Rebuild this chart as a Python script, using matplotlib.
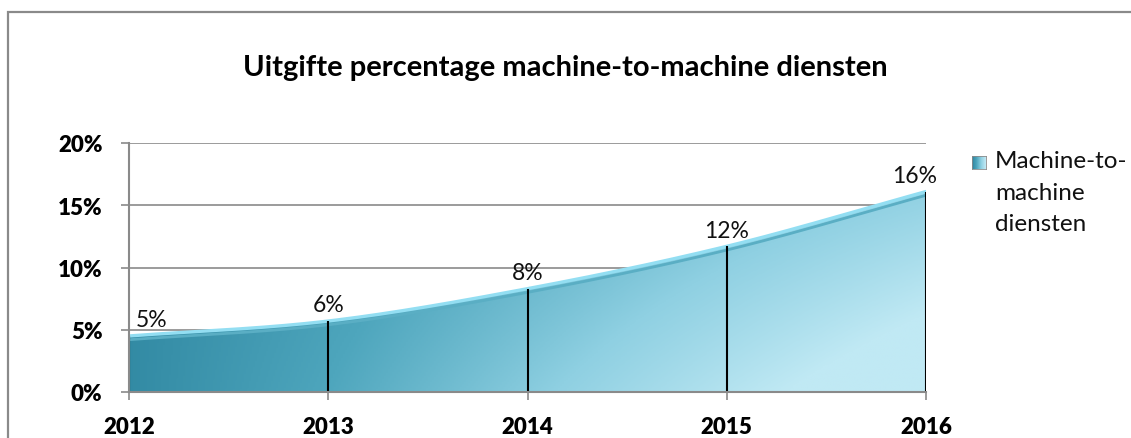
import numpy as np
import matplotlib.pyplot as plt
from matplotlib.colors import LinearSegmentedColormap
from matplotlib.patches import Rectangle, Polygon

plt.rcParams['font.family'] = ['Lato', 'DejaVu Sans']

# data
years = ['2012', '2013', '2014', '2015', '2016']
values = [4.5, 5.7, 8.3, 11.7, 16.1]          # percent
value_labels = ['5%', '6%', '8%', '12%', '16%']
yticks = [0, 5, 10, 15, 20]
series_name = 'Machine-to-\nmachine\ndiensten'
title = 'Uitgifte percentage machine-to-machine diensten'

W, H = 1131, 439


def smooth(x, y, n=60):
    # catmull-rom through the points, roughly what excel's "smoothed line" does
    x = np.asarray(x, float)
    y = np.asarray(y, float)
    px = np.r_[2 * x[0] - x[1], x, 2 * x[-1] - x[-2]]
    py = np.r_[2 * y[0] - y[1], y, 2 * y[-1] - y[-2]]
    xs, ys = [], []
    t = np.linspace(0, 1, n)
    for i in range(1, len(px) - 2):
        for p, out in ((px, xs), (py, ys)):
            p0, p1, p2, p3 = p[i - 1:i + 3]
            out.append(0.5 * ((2 * p1) + (-p0 + p2) * t
                              + (2 * p0 - 5 * p1 + 4 * p2 - p3) * t ** 2
                              + (-p0 + 3 * p1 - 3 * p2 + p3) * t ** 3))
    return np.concatenate(xs), np.concatenate(ys)


fig = plt.figure(figsize=(W / 100, H / 100), dpi=100)
ax = fig.add_axes([129 / W, 1 - 393 / H, (926 - 129) / W, (393 - 144) / H])

x = np.arange(len(years))
sx, sy = smooth(x, values)

# gradient fill clipped to the area under the curve
cmap = LinearSegmentedColormap.from_list('m2m', ['#2e86a0', '#4ea6bd', '#8fd0e2', '#c0e9f4'])
gx, gy = np.meshgrid(np.linspace(0, 4, 400), np.linspace(0, 20, 200))
tt = np.clip(0.05 + (gx / 4) * 1.15 * (1 - 0.45 * gy / 16), 0, 1)
img = ax.imshow(tt, extent=[0, 4, 0, 20], origin='lower', cmap=cmap,
                aspect='auto', vmin=0, vmax=1, zorder=2)
poly = Polygon(np.c_[np.r_[sx, sx[-1], sx[0]], np.r_[sy, 0, 0]],
               closed=True, facecolor='none', edgecolor='none')
ax.add_patch(poly)
img.set_clip_path(poly)

# highlight along the top edge
ax.plot(sx, sy - 0.3, color='#5aaec4', lw=2, zorder=3)
ax.plot(sx, sy, color='#93def2', lw=2.4, zorder=4)

# drop lines
ax.vlines(x, 0, values, color='black', lw=1.5, zorder=5)

for i, (v, lab) in enumerate(zip(values, value_labels)):
    dx = 0
    if i == 0:
        dx = 16
    elif i == len(values) - 1:
        dx = -8
    ax.annotate(lab, (i, v), xytext=(dx, 4), textcoords='offset points',
                ha='center', va='bottom', fontsize=16.5, color='#111111', zorder=6)

ax.set_xlim(0, 4)
ax.set_ylim(0, 20)
ax.set_yticks(yticks)
ax.set_yticklabels([f'{t}%' for t in yticks])
ax.set_xticks(x)
ax.set_xticklabels(years)
ax.yaxis.grid(True, color='#8a8a8a', lw=1.2, zorder=1)
ax.set_axisbelow(True)
for s in ['top', 'right']:
    ax.spines[s].set_visible(False)
for s in ['left', 'bottom']:
    ax.spines[s].set_color('#8a8a8a')
    ax.spines[s].set_linewidth(1.5)
    ax.spines[s].set_zorder(7)
ax.tick_params(axis='both', length=6, width=1.2, color='#8a8a8a',
               labelsize=16, pad=11)
for lbl in ax.get_xticklabels() + ax.get_yticklabels():
    lbl.set_fontweight('heavy')
ax.tick_params(axis='y', pad=13)

fig.text(565 / W, 1 - 68 / H, title, ha='center', va='center',
         fontsize=21, fontweight='bold')

# legend: gradient square + wrapped name
lax = fig.add_axes([972 / W, 1 - 170 / H, 14 / W, 13 / H])
lax.imshow(np.linspace(0, 1, 20)[None, :] * np.ones((20, 1)), cmap=cmap,
           aspect='auto', vmin=0, vmax=1)
lax.set_xticks([])
lax.set_yticks([])
for s in lax.spines.values():
    s.set_color('#8a8a8a')
    s.set_linewidth(0.6)
fig.text(995 / W, 1 - 151 / H, series_name, ha='left', va='top',
         fontsize=17.5, linespacing=1.62, color='#111111')

# outer chart border
fig.patches.append(Rectangle((8 / W, -0.1), 2, 1 - 13 / H + 0.1,
                             transform=fig.transFigure, fill=False,
                             edgecolor='#8a8a8a', lw=1.6))

fig.savefig('out.png', dpi=100)
